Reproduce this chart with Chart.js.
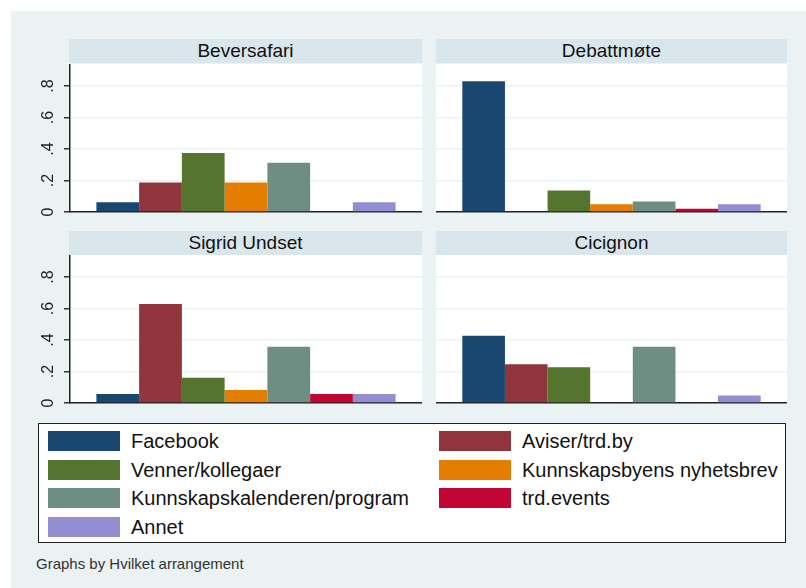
<!DOCTYPE html>
<html>
<head>
<meta charset="utf-8">
<script src="https://cdn.jsdelivr.net/npm/chart.js@4.4.1/dist/chart.umd.min.js"></script>
<style>
  body { margin: 0; background: #fff; font-family: "Liberation Sans", Arial, sans-serif; }
  #page { position: relative; width: 806px; height: 588px; overflow: hidden; }
  #region { position: absolute; left: 11px; top: 11px; right: 0; bottom: 0; background: #eaf2f3; }
  .strip { position: absolute; height: 24px; line-height: 24px; background: #d9e6eb;
           text-align: center; font-size: 19px; color: #111; }
  canvas { position: absolute; }
  #legend { position: absolute; left: 38px; top: 423px; width: 748px; height: 120px;
            background: #fff; border: 1.5px solid #222; box-sizing: border-box; }
  .item { position: absolute; height: 20px; font-size: 20px; line-height: 20px; color: #111; white-space: nowrap; }
  .swatch { position: absolute; left: 0; top: 0; width: 72px; height: 20px; }
  .item span { position: absolute; left: 83px; top: 0; }
  #note { position: absolute; left: 36px; top: 555px; font-size: 15px; color: #333; }
</style>
</head>
<body>
<div id="page">
  <div id="region"></div>
  <div class="strip" style="left:69px; top:39px; width:353px;" id="t0"></div>
  <div class="strip" style="left:436px; top:39px; width:351px;" id="t1"></div>
  <div class="strip" style="left:69px; top:231px; width:353px;" id="t2"></div>
  <div class="strip" style="left:436px; top:231px; width:351px;" id="t3"></div>
  <canvas id="c0" width="422" height="160" style="left:0; top:64px;"></canvas>
  <canvas id="c1" width="351" height="160" style="left:436px; top:64px;"></canvas>
  <canvas id="c2" width="422" height="160" style="left:0; top:255px;"></canvas>
  <canvas id="c3" width="351" height="160" style="left:436px; top:255px;"></canvas>
  <div id="legend"></div>
  <div id="note">Graphs by Hvilket arrangement</div>
</div>
<script>
const arrangements = ["Beversafari", "Debattmøte", "Sigrid Undset", "Cicignon"];
const sources = ["Facebook", "Aviser/trd.by", "Venner/kollegaer", "Kunnskapsbyens nyhetsbrev",
                 "Kunnskapskalenderen/program", "trd.events", "Annet"];
const colors = ["#1a476f", "#90353b", "#55752f", "#e37e00", "#6e8e84", "#c10534", "#938dd2"];

// andel per kilde, i samme rekkefølge som sources
const beversafari = [0.0625, 0.1875, 0.375, 0.1875, 0.3125, 0, 0.0625];
const debattmote = [0.83, 0, 0.136, 0.049, 0.066, 0.021, 0.049];
const sigridUndset = [0.057, 0.629, 0.161, 0.083, 0.357, 0.057, 0.057];
const cicignon = [0.427, 0.246, 0.227, 0, 0.357, 0, 0.047];

const yTicks = [0, 0.2, 0.4, 0.6, 0.8];
const yTickLabels = ["0", ".2", ".4", ".6", ".8"];
const yMax = 0.94;

const panelData = [beversafari, debattmote, sigridUndset, cicignon];

// hvit plottflate
const plotBg = {
  id: "plotBg",
  beforeDraw(chart) {
    const a = chart.chartArea;
    chart.ctx.save();
    chart.ctx.fillStyle = "#fff";
    chart.ctx.fillRect(a.left, a.top, a.right - a.left, a.bottom - a.top);
    chart.ctx.restore();
  },
};

// roterte y-etiketter som i Stata
const rotatedTicks = {
  id: "rotatedTicks",
  afterDraw(chart, args, opts) {
    if (!opts.show) return;
    const y = chart.scales.y;
    const ctx = chart.ctx;
    ctx.save();
    ctx.font = "16px 'Liberation Sans', Arial, sans-serif";
    ctx.fillStyle = "#222";
    ctx.textAlign = "center";
    ctx.textBaseline = "middle";
    yTicks.forEach((v, i) => {
      ctx.save();
      ctx.translate(y.left + 48.5, y.getPixelForValue(v));
      ctx.rotate(-Math.PI / 2);
      ctx.fillText(yTickLabels[i], 0, 0);
      ctx.restore();
    });
    ctx.restore();
  },
};

function renderPanel(idx) {
  const left = idx % 2 === 0;
  document.getElementById("t" + idx).textContent = arrangements[idx];
  const ctx = document.getElementById("c" + idx).getContext("2d");
  new Chart(ctx, {
    type: "bar",
    data: {
      labels: [""],
      datasets: sources.map((s, i) => ({
        label: s,
        data: [panelData[idx][i]],
        backgroundColor: colors[i],
        borderWidth: 0,
      })),
    },
    options: {
      responsive: false,
      animation: false,
      devicePixelRatio: 1,
      categoryPercentage: 0.85,
      barPercentage: 1,
      layout: { padding: 0 },
      plugins: {
        legend: { display: false },
        tooltip: { enabled: false },
        rotatedTicks: { show: left },
      },
      scales: {
        x: {
          ticks: { display: false },
          grid: { display: false },
          border: { display: true, color: "#222", width: 1.5 },
          afterFit: (s) => { s.height = 12; },
        },
        y: {
          min: 0,
          max: yMax,
          afterBuildTicks: (s) => { s.ticks = yTicks.map((v) => ({ value: v })); },
          ticks: { display: false },
          grid: {
            color: "#eaf2f3",
            lineWidth: 1.5,
            drawTicks: left,
            tickLength: 6,
            tickColor: "#333",
          },
          border: { display: left, color: "#222", width: 1.5 },
          afterFit: (s) => { s.width = left ? 70 : 0; },
        },
      },
    },
    plugins: [plotBg, rotatedTicks],
  });
}

function renderLegend() {
  const box = document.getElementById("legend");
  sources.forEach((s, i) => {
    const col = i % 2;
    const row = Math.floor(i / 2);
    const item = document.createElement("div");
    item.className = "item";
    item.style.left = (col === 0 ? 9 : 400) + "px";
    item.style.top = (7 + row * 28.7) + "px";
    item.innerHTML = `<div class="swatch" style="background:${colors[i]}"></div><span></span>`;
    item.querySelector("span").textContent = s;
    box.appendChild(item);
  });
}

for (let i = 0; i < 4; i++) renderPanel(i);
renderLegend();
</script>
</body>
</html>
